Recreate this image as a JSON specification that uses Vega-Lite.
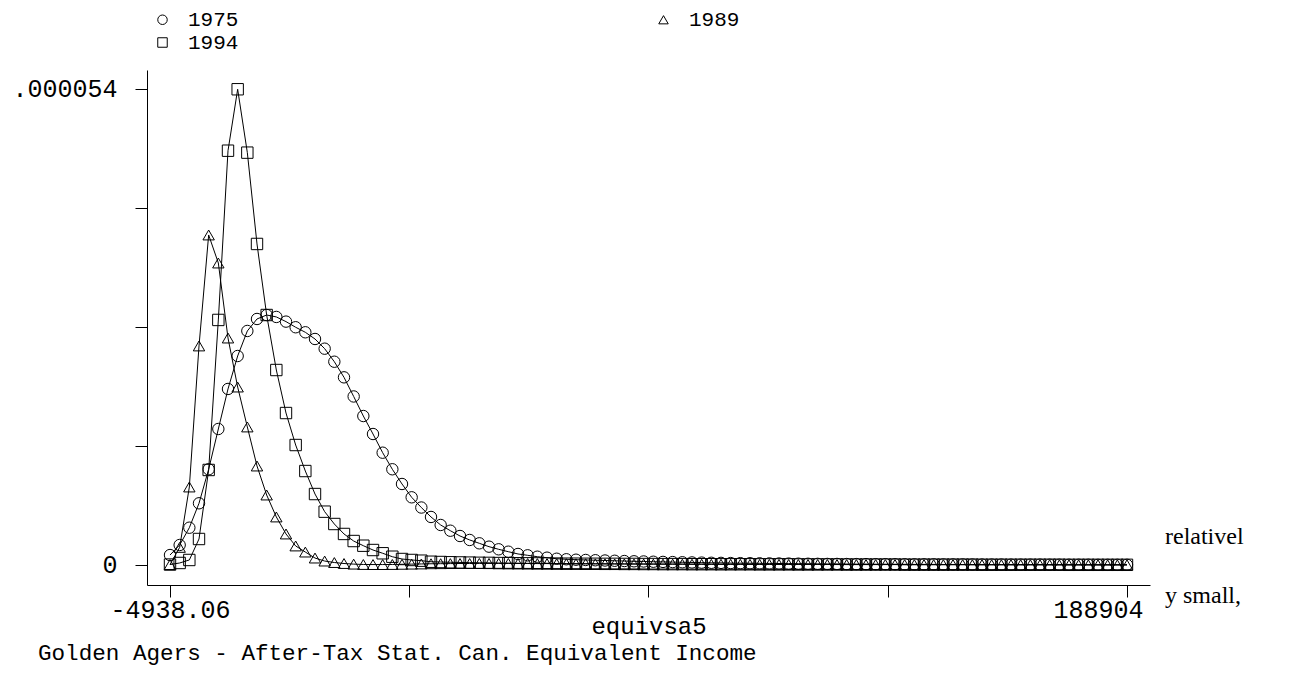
{
  "$schema": "https://vega.github.io/schema/vega-lite/v6.json",
  "width": 1003,
  "height": 515,
  "autosize": {"type": "none"},
  "padding": {"left": 147, "top": 70, "right": 140, "bottom": 94},
  "background": "white",
  "config": {"view": {"stroke": null}, "font": "Liberation Mono"},
  "title": {
    "text": "Golden Agers - After-Tax Stat. Can. Equivalent Income",
    "orient": "bottom", "anchor": "start", "frame": "group", "dx": -109, "offset": 4,
    "font": "Liberation Mono", "fontSize": 22.6, "fontWeight": "normal", "color": "black"
  },
  "datasets": {
    "dens": [
      {"x": -4938.06, "y1975": 1.13e-6, "y1989": 0.05e-6, "y1994": 0.05e-6},
      {"x": -2980.06, "y1975": 2.27e-6, "y1989": 2.0e-6, "y1994": 0.23e-6},
      {"x": -1022.06, "y1975": 4.23e-6, "y1989": 8.85e-6, "y1994": 0.57e-6},
      {"x": 935.94, "y1975": 7.0e-6, "y1989": 24.85e-6, "y1994": 2.95e-6},
      {"x": 2893.94, "y1975": 10.86e-6, "y1989": 37.44e-6, "y1994": 10.78e-6},
      {"x": 4851.94, "y1975": 15.43e-6, "y1989": 34.26e-6, "y1994": 27.80e-6},
      {"x": 6809.94, "y1975": 19.97e-6, "y1989": 25.75e-6, "y1994": 47.00e-6},
      {"x": 8767.94, "y1975": 23.71e-6, "y1989": 20.19e-6, "y1994": 53.97e-6},
      {"x": 10725.94, "y1975": 26.55e-6, "y1989": 15.66e-6, "y1994": 46.78e-6},
      {"x": 12683.94, "y1975": 27.91e-6, "y1989": 11.23e-6, "y1994": 36.42e-6},
      {"x": 14641.94, "y1975": 28.36e-6, "y1989": 7.94e-6, "y1994": 28.36e-6},
      {"x": 16599.94, "y1975": 28.14e-6, "y1989": 5.45e-6, "y1994": 22.12e-6},
      {"x": 18557.94, "y1975": 27.61e-6, "y1989": 3.52e-6, "y1994": 17.24e-6},
      {"x": 20515.94, "y1975": 26.97e-6, "y1989": 2.16e-6, "y1994": 13.61e-6},
      {"x": 22473.94, "y1975": 26.40e-6, "y1989": 1.47e-6, "y1994": 10.66e-6},
      {"x": 24431.94, "y1975": 25.64e-6, "y1989": 0.79e-6, "y1994": 8.05e-6},
      {"x": 26389.94, "y1975": 24.54e-6, "y1989": 0.45e-6, "y1994": 6.05e-6},
      {"x": 28347.94, "y1975": 23.06e-6, "y1989": 0.28e-6, "y1994": 4.65e-6},
      {"x": 30305.94, "y1975": 21.29e-6, "y1989": 0.17e-6, "y1994": 3.52e-6},
      {"x": 32263.94, "y1975": 19.12e-6, "y1989": 0.10e-6, "y1994": 2.72e-6},
      {"x": 34221.94, "y1975": 16.90e-6, "y1989": 0.06e-6, "y1994": 2.19e-6},
      {"x": 36179.94, "y1975": 14.86e-6, "y1989": 0.05e-6, "y1994": 1.70e-6},
      {"x": 38137.94, "y1975": 12.74e-6, "y1989": 0.05e-6, "y1994": 1.33e-6},
      {"x": 40095.94, "y1975": 10.86e-6, "y1989": 0.06e-6, "y1994": 0.94e-6},
      {"x": 42053.94, "y1975": 9.19e-6, "y1989": 0.08e-6, "y1994": 0.68e-6},
      {"x": 44011.94, "y1975": 7.68e-6, "y1989": 0.10e-6, "y1994": 0.57e-6},
      {"x": 45969.94, "y1975": 6.52e-6, "y1989": 0.12e-6, "y1994": 0.49e-6},
      {"x": 47927.94, "y1975": 5.45e-6, "y1989": 0.14e-6, "y1994": 0.37e-6},
      {"x": 49885.94, "y1975": 4.54e-6, "y1989": 0.15e-6, "y1994": 0.34e-6},
      {"x": 51843.94, "y1975": 3.89e-6, "y1989": 0.16e-6, "y1994": 0.31e-6},
      {"x": 53801.94, "y1975": 3.29e-6, "y1989": 0.17e-6, "y1994": 0.29e-6},
      {"x": 55759.94, "y1975": 2.84e-6, "y1989": 0.17e-6, "y1994": 0.27e-6},
      {"x": 57717.94, "y1975": 2.46e-6, "y1989": 0.18e-6, "y1994": 0.25e-6},
      {"x": 59675.94, "y1975": 2.08e-6, "y1989": 0.18e-6, "y1994": 0.24e-6},
      {"x": 61633.94, "y1975": 1.78e-6, "y1989": 0.18e-6, "y1994": 0.22e-6},
      {"x": 63591.94, "y1975": 1.51e-6, "y1989": 0.18e-6, "y1994": 0.21e-6},
      {"x": 65549.94, "y1975": 1.25e-6, "y1989": 0.17e-6, "y1994": 0.20e-6},
      {"x": 67507.94, "y1975": 1.10e-6, "y1989": 0.17e-6, "y1994": 0.19e-6},
      {"x": 69465.94, "y1975": 0.94e-6, "y1989": 0.16e-6, "y1994": 0.18e-6},
      {"x": 71423.94, "y1975": 0.83e-6, "y1989": 0.16e-6, "y1994": 0.17e-6},
      {"x": 73381.94, "y1975": 0.71e-6, "y1989": 0.15e-6, "y1994": 0.16e-6},
      {"x": 75339.94, "y1975": 0.65e-6, "y1989": 0.15e-6, "y1994": 0.15e-6},
      {"x": 77297.94, "y1975": 0.60e-6, "y1989": 0.14e-6, "y1994": 0.15e-6},
      {"x": 79255.94, "y1975": 0.57e-6, "y1989": 0.14e-6, "y1994": 0.14e-6},
      {"x": 81213.94, "y1975": 0.54e-6, "y1989": 0.13e-6, "y1994": 0.14e-6},
      {"x": 83171.94, "y1975": 0.51e-6, "y1989": 0.13e-6, "y1994": 0.13e-6},
      {"x": 85129.94, "y1975": 0.48e-6, "y1989": 0.12e-6, "y1994": 0.13e-6},
      {"x": 87087.94, "y1975": 0.45e-6, "y1989": 0.12e-6, "y1994": 0.12e-6},
      {"x": 89045.94, "y1975": 0.42e-6, "y1989": 0.11e-6, "y1994": 0.12e-6},
      {"x": 91003.94, "y1975": 0.40e-6, "y1989": 0.11e-6, "y1994": 0.11e-6},
      {"x": 92961.94, "y1975": 0.37e-6, "y1989": 0.10e-6, "y1994": 0.11e-6},
      {"x": 94919.94, "y1975": 0.35e-6, "y1989": 0.10e-6, "y1994": 0.10e-6},
      {"x": 96877.94, "y1975": 0.33e-6, "y1989": 0.10e-6, "y1994": 0.10e-6},
      {"x": 98835.94, "y1975": 0.31e-6, "y1989": 0.09e-6, "y1994": 0.10e-6},
      {"x": 100793.94, "y1975": 0.29e-6, "y1989": 0.09e-6, "y1994": 0.09e-6},
      {"x": 102751.94, "y1975": 0.27e-6, "y1989": 0.09e-6, "y1994": 0.09e-6},
      {"x": 104709.94, "y1975": 0.25e-6, "y1989": 0.08e-6, "y1994": 0.09e-6},
      {"x": 106667.94, "y1975": 0.24e-6, "y1989": 0.08e-6, "y1994": 0.08e-6},
      {"x": 108625.94, "y1975": 0.22e-6, "y1989": 0.08e-6, "y1994": 0.08e-6},
      {"x": 110583.94, "y1975": 0.21e-6, "y1989": 0.08e-6, "y1994": 0.08e-6},
      {"x": 112541.94, "y1975": 0.20e-6, "y1989": 0.07e-6, "y1994": 0.08e-6},
      {"x": 114499.94, "y1975": 0.19e-6, "y1989": 0.07e-6, "y1994": 0.07e-6},
      {"x": 116457.94, "y1975": 0.18e-6, "y1989": 0.07e-6, "y1994": 0.07e-6},
      {"x": 118415.94, "y1975": 0.17e-6, "y1989": 0.07e-6, "y1994": 0.07e-6},
      {"x": 120373.94, "y1975": 0.16e-6, "y1989": 0.06e-6, "y1994": 0.07e-6},
      {"x": 122331.94, "y1975": 0.15e-6, "y1989": 0.06e-6, "y1994": 0.06e-6},
      {"x": 124289.94, "y1975": 0.14e-6, "y1989": 0.06e-6, "y1994": 0.06e-6},
      {"x": 126247.94, "y1975": 0.13e-6, "y1989": 0.06e-6, "y1994": 0.06e-6},
      {"x": 128205.94, "y1975": 0.12e-6, "y1989": 0.06e-6, "y1994": 0.06e-6},
      {"x": 130163.94, "y1975": 0.12e-6, "y1989": 0.05e-6, "y1994": 0.06e-6},
      {"x": 132121.94, "y1975": 0.11e-6, "y1989": 0.05e-6, "y1994": 0.05e-6},
      {"x": 134079.94, "y1975": 0.10e-6, "y1989": 0.05e-6, "y1994": 0.05e-6},
      {"x": 136037.94, "y1975": 0.10e-6, "y1989": 0.05e-6, "y1994": 0.05e-6},
      {"x": 137995.94, "y1975": 0.09e-6, "y1989": 0.05e-6, "y1994": 0.05e-6},
      {"x": 139953.94, "y1975": 0.09e-6, "y1989": 0.05e-6, "y1994": 0.05e-6},
      {"x": 141911.94, "y1975": 0.08e-6, "y1989": 0.05e-6, "y1994": 0.05e-6},
      {"x": 143869.94, "y1975": 0.08e-6, "y1989": 0.04e-6, "y1994": 0.04e-6},
      {"x": 145827.94, "y1975": 0.07e-6, "y1989": 0.04e-6, "y1994": 0.04e-6},
      {"x": 147785.94, "y1975": 0.07e-6, "y1989": 0.04e-6, "y1994": 0.04e-6},
      {"x": 149743.94, "y1975": 0.07e-6, "y1989": 0.04e-6, "y1994": 0.04e-6},
      {"x": 151701.94, "y1975": 0.06e-6, "y1989": 0.04e-6, "y1994": 0.04e-6},
      {"x": 153659.94, "y1975": 0.06e-6, "y1989": 0.04e-6, "y1994": 0.04e-6},
      {"x": 155617.94, "y1975": 0.06e-6, "y1989": 0.04e-6, "y1994": 0.04e-6},
      {"x": 157575.94, "y1975": 0.05e-6, "y1989": 0.03e-6, "y1994": 0.04e-6},
      {"x": 159533.94, "y1975": 0.05e-6, "y1989": 0.03e-6, "y1994": 0.03e-6},
      {"x": 161491.94, "y1975": 0.05e-6, "y1989": 0.03e-6, "y1994": 0.03e-6},
      {"x": 163449.94, "y1975": 0.05e-6, "y1989": 0.03e-6, "y1994": 0.03e-6},
      {"x": 165407.94, "y1975": 0.04e-6, "y1989": 0.03e-6, "y1994": 0.03e-6},
      {"x": 167365.94, "y1975": 0.04e-6, "y1989": 0.03e-6, "y1994": 0.03e-6},
      {"x": 169323.94, "y1975": 0.04e-6, "y1989": 0.03e-6, "y1994": 0.03e-6},
      {"x": 171281.94, "y1975": 0.04e-6, "y1989": 0.03e-6, "y1994": 0.03e-6},
      {"x": 173239.94, "y1975": 0.03e-6, "y1989": 0.03e-6, "y1994": 0.03e-6},
      {"x": 175197.94, "y1975": 0.03e-6, "y1989": 0.02e-6, "y1994": 0.03e-6},
      {"x": 177155.94, "y1975": 0.03e-6, "y1989": 0.02e-6, "y1994": 0.02e-6},
      {"x": 179113.94, "y1975": 0.03e-6, "y1989": 0.02e-6, "y1994": 0.02e-6},
      {"x": 181071.94, "y1975": 0.03e-6, "y1989": 0.02e-6, "y1994": 0.02e-6},
      {"x": 183029.94, "y1975": 0.02e-6, "y1989": 0.02e-6, "y1994": 0.02e-6},
      {"x": 184987.94, "y1975": 0.02e-6, "y1989": 0.02e-6, "y1994": 0.02e-6},
      {"x": 186945.94, "y1975": 0.02e-6, "y1989": 0.02e-6, "y1994": 0.02e-6},
      {"x": 188904, "y1975": 0.02e-6, "y1989": 0.02e-6, "y1994": 0.02e-6}
    ],
    "notes": [
      {"note": "relativel"},
      {"note": "y small,"}
    ]
  },
  "layer": [
    {
      "data": {"name": "dens"},
      "transform": [{"fold": ["y1975", "y1989", "y1994"], "as": ["series", "density"]}],
      "mark": {"type": "line", "color": "black", "strokeWidth": 1},
      "encoding": {
        "x": {
          "field": "x", "type": "quantitative",
          "scale": {"domain": [-9597, 193563], "nice": false, "zero": false},
          "axis": {
            "values": [-4938.06, 43522.455, 91982.97, 140443.485, 188904],
            "labelExpr": "datum.value < 0 ? '-4938.06' : (datum.value > 188000 ? '188904' : '')",
            "labelAlign": {"condition": {"test": "datum.value > 188000", "value": "right"}, "value": "center"},
            "labelOffset": {"condition": {"test": "datum.value > 188000", "value": 16}, "value": 0},
            "title": "equivsa5", "titleFont": "Liberation Mono", "titleFontSize": 24, "titleFontWeight": "normal",
            "titleColor": "black", "titlePadding": -8,
            "labelFont": "Liberation Mono", "labelFontSize": 25, "labelColor": "black", "labelPadding": 0,
            "labelOverlap": false, "labelFlush": false, "labelBound": false,
            "tickSize": 12, "tickColor": "black", "tickWidth": 1, "domainColor": "black", "domainWidth": 1, "grid": false
          }
        },
        "y": {
          "field": "density", "type": "quantitative",
          "scale": {"domain": [-2.269e-6, 5.6155e-5], "nice": false, "zero": false},
          "axis": {
            "values": [0, 1.35e-5, 2.7e-5, 4.05e-5, 5.4e-5],
            "labelExpr": "datum.value == 0 ? '0' : (datum.value > 5.3e-5 ? '.000054' : '')",
            "title": null,
            "labelFont": "Liberation Mono", "labelFontSize": 25, "labelColor": "black", "labelPadding": 18,
            "labelOverlap": false, "labelFlush": false, "labelBound": false,
            "tickSize": 12, "tickColor": "black", "tickWidth": 1, "domainColor": "black", "domainWidth": 1, "grid": false
          }
        },
        "detail": {"field": "series"}
      }
    },
    {
      "data": {"name": "dens"},
      "transform": [{"fold": ["y1975", "y1989", "y1994"], "as": ["series", "density"]}],
      "mark": {"type": "point", "filled": false, "color": "black", "strokeWidth": 1, "size": 130, "opacity": 1},
      "encoding": {
        "x": {"field": "x", "type": "quantitative"},
        "y": {"field": "density", "type": "quantitative"},
        "shape": {
          "field": "series", "type": "nominal",
          "scale": {"domain": ["y1975", "y1989", "y1994"], "range": ["circle", "triangle-up", "square"]},
          "legend": {
            "title": null, "orient": "none", "legendX": 5, "legendY": -61, "direction": "horizontal",
            "columns": 2, "columnPadding": 414, "rowPadding": 1, "padding": 0,
            "symbolSize": 90, "symbolStrokeWidth": 1, "symbolStrokeColor": "black",
            "labelFont": "Liberation Mono", "labelFontSize": 21, "labelColor": "black", "labelOffset": 15,
            "labelExpr": "substring(datum.label, 1)"
          }
        }
      }
    },
    {
      "data": {"name": "notes"},
      "transform": [{"filter": "datum.note == 'relativel'"}],
      "mark": {"type": "text", "font": "Liberation Serif", "fontSize": 24, "align": "left", "baseline": "middle", "color": "black", "clip": false},
      "encoding": {
        "x": {"datum": 196598, "type": "quantitative"},
        "y": {"datum": 3.18e-6, "type": "quantitative"},
        "text": {"field": "note"}
      }
    },
    {
      "data": {"name": "notes"},
      "transform": [{"filter": "datum.note == 'y small,'"}],
      "mark": {"type": "text", "font": "Liberation Serif", "fontSize": 24, "align": "left", "baseline": "middle", "color": "black", "clip": false},
      "encoding": {
        "x": {"datum": 196598, "type": "quantitative"},
        "y": {"datum": -3.52e-6, "type": "quantitative"},
        "text": {"field": "note"}
      }
    }
  ]
}
